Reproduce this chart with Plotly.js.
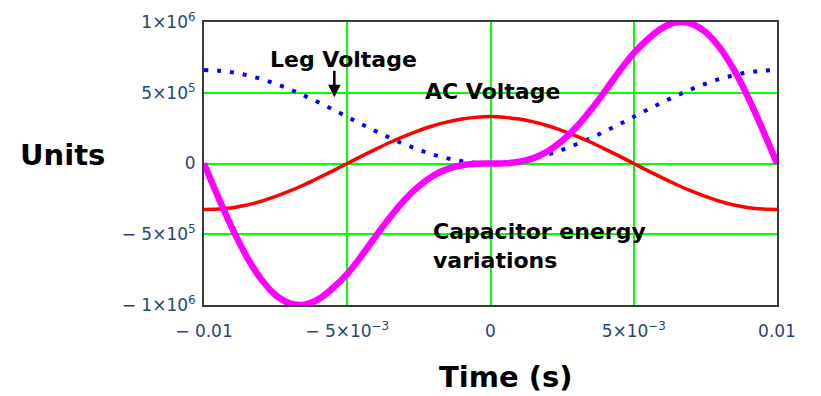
<!DOCTYPE html>
<html>
<head>
<meta charset="utf-8">
<script src="https://cdn.plot.ly/plotly-3.0.1.min.js"></script>
<style>html,body{margin:0;padding:0;background:#fff;}#chart{width:821px;height:396px;}</style>
</head>
<body>
<div id="chart"></div>
<script>
// time axis (s)
var time = [-0.01,-0.0095,-0.009,-0.0085,-0.008,-0.0075,-0.007,-0.0065,-0.006,-0.0055,-0.005,-0.0045,-0.004,-0.0035,-0.003,-0.0025,-0.002,-0.0015,-0.001,-0.0005,0,
            0.0005,0.001,0.0015,0.002,0.0025,0.003,0.0035,0.004,0.0045,0.005,0.0055,0.006,0.0065,0.007,0.0075,0.008,0.0085,0.009,0.0095,0.01];
// AC voltage (red)
var acVoltage = [-325000,-322000,-312000,-293000,-267000,-233000,-194000,-150000,-102000,-52000,0,52000,102000,150000,194000,233000,267000,294000,314000,326000,332000,
                 326000,314000,294000,267000,233000,194000,150000,102000,52000,0,-52000,-102000,-150000,-194000,-233000,-267000,-293000,-312000,-322000,-325000];
// Leg voltage (blue dotted)
var legVoltage = [660000,656000,644000,624000,597000,563000,524000,480000,432000,382000,330000,278000,228000,180000,136000,97000,63000,36000,16000,4000,0,
                  4000,16000,36000,63000,97000,136000,180000,228000,278000,330000,382000,432000,480000,524000,563000,597000,624000,644000,656000,660000];
// Capacitor energy variations (magenta)
var capEnergy = [0,-239000,-464000,-661000,-819000,-930000,-989000,-998000,-959000,-880000,-780000,-652000,-512000,-378000,-258000,-160000,-86000,-38000,-12000,-1500,0,
                 1500,12000,38000,86000,160000,258000,378000,512000,652000,780000,880000,959000,998000,989000,930000,819000,661000,464000,239000,0];

var xTickVals = [-0.01,-0.005,0,0.005,0.01];
var xTickText = ['\u2212 0.01','\u2212 5\u00d710<sup>\u22123</sup>','0','5\u00d710<sup>\u22123</sup>','0.01'];
var yTickVals = [-1e6,-5e5,0,5e5,1e6];
var yTickText = ['\u2212 1\u00d710<sup>6</sup>','\u2212 5\u00d710<sup>5</sup>','0','5\u00d710<sup>5</sup>','1\u00d710<sup>6</sup>'];

var traces = [
  {x: time, y: legVoltage, mode: 'lines', line: {color: '#0000ff', width: 4, dash: '4px,9px', shape: 'spline'}, hoverinfo: 'skip'},
  {x: time, y: acVoltage, mode: 'lines', line: {color: '#ff0000', width: 3.5, shape: 'spline'}, hoverinfo: 'skip'},
  {x: time, y: capEnergy, mode: 'lines', line: {color: '#ff00ff', width: 6.5, shape: 'spline'}, hoverinfo: 'skip'}
];

var tickFont = {family: 'DejaVu Sans, Verdana, sans-serif', size: 17, color: '#24467a'};
var labFont = {family: 'DejaVu Sans, Verdana, sans-serif', size: 22, color: '#000'};
var titleFont = {family: 'DejaVu Sans, Verdana, sans-serif', size: 29, color: '#000'};

var layout = {
  width: 821, height: 396,
  margin: {l: 204, r: 44, t: 22, b: 91},
  paper_bgcolor: '#fff', plot_bgcolor: '#fff',
  showlegend: false,
  xaxis: {range: [-0.01, 0.01], tickvals: xTickVals, ticktext: xTickText, tickfont: tickFont,
          showgrid: true, gridcolor: '#00ff00', gridwidth: 2, zeroline: false,
          showline: true, mirror: true, linecolor: '#3a3a3a', linewidth: 2, ticks: '', ticklabelstandoff: 10},
  yaxis: {range: [-1e6, 1e6], tickvals: yTickVals, ticktext: yTickText, tickfont: tickFont,
          showgrid: true, gridcolor: '#00ff00', gridwidth: 2, zeroline: false,
          showline: true, mirror: true, linecolor: '#3a3a3a', linewidth: 2, ticks: '', ticklabelstandoff: 3},
  annotations: [
    {xref: 'paper', yref: 'paper', x: -0.247, y: 0.53, xanchor: 'center', yanchor: 'middle',
     text: '<b>Units</b>', showarrow: false, font: titleFont},
    {xref: 'paper', yref: 'paper', x: 0.527, y: -0.255, xanchor: 'center', yanchor: 'middle',
     text: '<b>Time (s)</b>', showarrow: false, font: titleFont},
    {x: -0.00514, y: 738000, xanchor: 'center', yanchor: 'middle', text: '<b>Leg Voltage</b>', showarrow: false, font: labFont},
    {x: 0.00007, y: 510000, xanchor: 'center', yanchor: 'middle', text: '<b>AC Voltage</b>', showarrow: false, font: labFont},
    {x: -0.00206, y: -580000, xanchor: 'left', yanchor: 'middle', text: '<b>Capacitor energy<br>variations</b>',
     showarrow: false, align: 'left', font: labFont},
    {x: -0.00545, y: 468000, text: '', showarrow: true, ax: 0, ay: -28, arrowhead: 2, arrowsize: 1,
     arrowwidth: 2.5, arrowcolor: '#000'}
  ]
};

Plotly.newPlot('chart', traces, layout, {staticPlot: true, displayModeBar: false});
</script>
</body>
</html>
